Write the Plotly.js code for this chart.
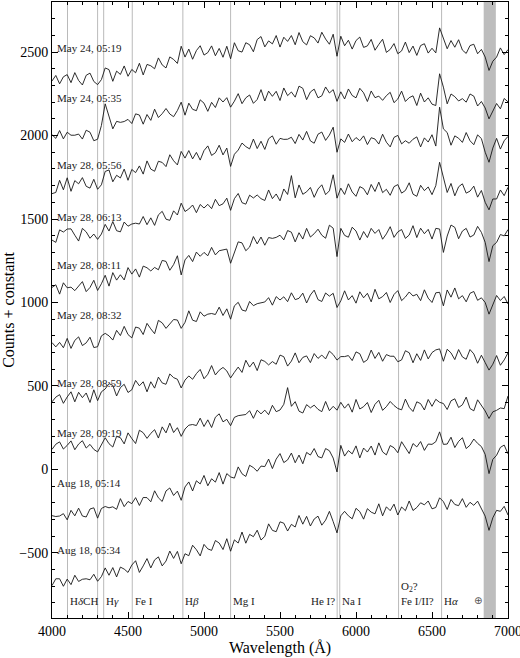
<!DOCTYPE html>
<html>
<head>
<meta charset="utf-8">
<script src="https://cdn.plot.ly/plotly-3.0.1.min.js"></script>
<style>html,body{margin:0;padding:0;background:#fff;}#chart{width:520px;height:658px;}</style>
</head>
<body>
<div id="chart"></div>
<script>
// Wavelength grid (Å), 25 Å sampling from 4000 to 7000
const wavelength = [];
for (let i = 0; i <= 120; i++) wavelength.push(4000 + 25 * i);

const spectrumNames = ["May 24, 05:19", "May 24, 05:35", "May 28, 05:56", "May 28, 06:13", "May 28, 08:11",
                       "May 28, 08:32", "May 28, 08:59", "May 28, 09:19", "Aug 18, 05:14", "Aug 18, 05:34"];
const labelY = [2524, 2225, 1823, 1512, 1224, 925, 518, 219, -80, -481];

const may24_0519 = [2327,2360,2310,2352,2365,2317,2377,2330,2303,2361,2374,2324,2305,2335,2405,2395,2325,2386,2366,2417,
  2355,2396,2376,2433,2363,2426,2418,2400,2465,2423,2405,2471,2456,2432,2535,2470,2518,2457,2509,2538,
  2482,2497,2537,2478,2522,2469,2535,2460,2556,2508,2500,2556,2544,2502,2575,2593,2531,2567,2549,2599,
  2530,2589,2564,2599,2544,2617,2562,2543,2598,2585,2554,2619,2578,2547,2607,2475,2595,2538,2571,2518,
  2569,2590,2528,2537,2576,2511,2546,2577,2498,2516,2551,2490,2507,2560,2497,2536,2480,2539,2550,2494,
  2523,2495,2645,2585,2520,2569,2529,2574,2512,2492,2539,2547,2490,2516,2470,2390,2445,2470,2525,2485,2515];
const may24_0535 = [2005,1983,2030,1980,2020,2002,2002,2009,1979,2032,2020,1969,1978,2060,2190,2109,2040,2085,2079,2084,
  2097,2072,2130,2123,2068,2126,2091,2158,2108,2131,2162,2129,2113,2150,2200,2122,2194,2157,2149,2214,
  2194,2145,2199,2168,2226,2201,2227,2170,2206,2251,2191,2226,2243,2193,2216,2275,2207,2266,2235,2265,
  2210,2285,2239,2261,2230,2296,2283,2215,2261,2278,2226,2238,2291,2255,2275,2205,2262,2219,2279,2240,
  2226,2283,2256,2204,2267,2227,2236,2211,2239,2259,2197,2219,2266,2204,2227,2238,2180,2254,2201,2226,
  2188,2180,2370,2290,2190,2249,2233,2207,2221,2200,2249,2236,2177,2204,2165,2100,2145,2192,2160,2222,2202];
const may28_0556 = [1652,1659,1732,1675,1747,1666,1730,1711,1748,1696,1685,1738,1678,1705,1785,1794,1723,1762,1746,1799,
  1732,1797,1778,1818,1769,1848,1799,1786,1846,1839,1814,1885,1849,1824,1905,1865,1910,1860,1899,1853,
  1910,1938,1881,1897,1942,1884,1925,1815,1888,1913,1955,1934,1920,1979,1922,1966,1917,1981,1998,1948,
  1983,1977,1978,1990,1952,2007,1973,2025,1968,1954,2008,2021,1971,2003,2050,1900,1980,1959,2009,1963,
  1988,1969,1998,1946,1987,1979,1949,2008,1960,1932,1989,2001,1950,1969,1954,1978,1992,1932,1986,1961,
  2005,1937,2170,2040,2018,1942,1998,1984,1959,2018,1969,1945,2004,1982,1900,1840,1925,1983,1919,1969,1995];
const may28_0613 = [1374,1360,1435,1422,1440,1441,1403,1368,1444,1423,1385,1410,1378,1410,1468,1428,1485,1430,1423,1482,
  1457,1470,1475,1470,1515,1466,1507,1462,1525,1546,1499,1492,1549,1524,1595,1545,1560,1584,1538,1587,
  1566,1588,1562,1618,1580,1591,1625,1552,1622,1653,1598,1589,1643,1626,1644,1622,1611,1674,1622,1650,
  1609,1680,1647,1760,1627,1704,1648,1663,1689,1630,1680,1705,1646,1669,1765,1625,1685,1647,1711,1662,
  1636,1694,1682,1645,1707,1665,1721,1658,1678,1642,1694,1706,1655,1671,1717,1649,1636,1702,1670,1692,
  1646,1700,1840,1740,1659,1713,1639,1693,1711,1655,1667,1697,1631,1671,1600,1555,1620,1620,1674,1640,1690];
const may28_0811 = [1090,1106,1050,1118,1088,1092,1071,1101,1125,1065,1090,1133,1072,1112,1163,1098,1179,1134,1166,1135,
  1209,1170,1201,1152,1218,1208,1189,1210,1196,1252,1246,1193,1227,1280,1165,1255,1282,1245,1302,1277,
  1300,1280,1330,1285,1310,1315,1320,1235,1306,1363,1357,1310,1332,1395,1351,1392,1343,1389,1384,1390,
  1403,1375,1431,1421,1363,1418,1380,1444,1392,1412,1439,1403,1385,1463,1445,1275,1444,1402,1391,1451,
  1428,1374,1425,1389,1444,1414,1437,1379,1411,1454,1390,1423,1437,1384,1404,1460,1389,1445,1412,1438,
  1380,1444,1440,1300,1398,1464,1450,1382,1428,1444,1392,1404,1456,1420,1360,1245,1340,1360,1407,1399,1437];
const may28_0832 = [760,734,761,729,785,725,773,794,742,758,792,730,735,800,815,800,775,833,802,857,
  808,788,853,846,808,875,842,813,893,878,845,875,898,895,845,881,950,894,886,944,
  918,930,934,928,972,922,962,900,980,1001,955,948,1006,981,993,998,1003,1029,984,1035,
  1015,1034,1005,1058,1017,1025,1056,997,1045,1074,1017,1006,1057,1038,1055,970,1010,1070,1015,1041,
  996,1064,1028,1055,1004,1079,1022,1035,1060,1000,1048,1071,1011,1033,1063,1039,1049,1011,1076,1026,
  1000,1058,1061,980,1075,1032,1087,1022,1041,1004,1055,1066,1013,1028,1000,930,985,1042,1012,1036,991];
const may28_0859 = [405,433,448,396,434,465,405,462,430,458,401,477,412,465,482,514,504,440,490,510,
  461,477,533,501,525,465,525,487,553,518,510,572,550,540,488,535,560,540,574,599,
  543,570,622,566,594,611,590,548,582,613,581,654,613,643,592,657,647,626,646,630,
  685,675,619,649,698,639,671,680,640,694,665,685,662,709,688,655,676,676,682,652,
  704,693,641,657,715,665,701,648,688,678,678,645,656,711,699,639,693,653,716,662,
  700,716,722,648,720,698,658,718,674,660,718,692,636,684,640,595,630,682,624,656,698];
const may28_0919 = [120,151,165,122,144,171,118,152,172,128,150,120,105,148,190,154,134,198,190,153,
  219,185,155,235,220,186,216,238,188,255,219,277,221,250,198,242,265,269,263,307,
  257,297,251,313,333,285,300,262,312,322,325,329,352,306,355,333,355,328,384,346,
  356,390,490,378,406,349,338,388,369,385,360,346,407,352,378,355,402,367,393,343,
  419,362,376,401,341,390,414,354,376,407,383,365,357,421,372,347,405,394,356,419,
  378,420,402,395,359,411,423,371,387,433,365,351,417,385,350,305,345,354,368,364,440];
const aug18_0514 = [-277,-282,-279,-265,-302,-245,-278,-232,-279,-285,-237,-230,-292,-234,-222,-230,-224,-239,-175,-223,
  -192,-205,-169,-216,-168,-169,-194,-128,-170,-192,-129,-111,-156,-130,-185,-105,-75,-129,-68,-87,
  -36,-98,-56,-76,-19,-88,-25,-45,-52,15,-26,-42,25,11,-11,20,17,62,5,62,
  95,41,57,98,40,86,34,102,86,125,77,69,125,112,68,-15,144,80,113,93,
  141,69,128,104,140,86,159,105,87,143,130,100,166,126,95,155,135,167,114,152,
  150,166,225,150,152,193,131,168,190,125,145,182,156,137,90,-25,60,85,132,146,93];
const aug18_0534 = [-696,-655,-655,-700,-657,-690,-634,-671,-658,-655,-661,-628,-670,-642,-590,-634,-588,-644,-585,-597,
  -617,-573,-547,-617,-578,-534,-590,-542,-524,-578,-549,-489,-533,-491,-565,-505,-517,-454,-481,-518,
  -449,-476,-485,-426,-441,-480,-415,-490,-422,-441,-375,-442,-389,-403,-364,-423,-401,-326,-365,-373,
  -314,-322,-369,-329,-345,-276,-328,-281,-339,-297,-280,-334,-304,-251,-313,-380,-278,-251,-278,-296,
  -233,-253,-298,-235,-256,-266,-206,-278,-224,-247,-208,-273,-225,-247,-189,-246,-228,-200,-212,-189,
  -236,-228,-170,-193,-240,-180,-210,-217,-175,-227,-197,-215,-190,-235,-280,-365,-290,-245,-251,-221,-273];

const spectra = [may24_0519, may24_0535, may28_0556, may28_0613, may28_0811,
                 may28_0832, may28_0859, may28_0919, aug18_0514, aug18_0534];

// Spectral line markers (Å) and their labels ("" = label shared with the previous marker)
const lineWl = [4102, 4300, 4340, 4528, 4861, 5175, 5876, 5893, 6280, 6563];
const lineLabels = ["H<i>δ</i>CH", "", "H<i>γ</i>", "Fe I", "H<i>β</i>", "Mg I", "He I?", "Na I", "Fe I/II?", "H<i>α</i>"];
const lineLabelSide = ["left", "right", "left", "left", "left", "left", "right", "left", "left", "left"];
const o2Label = "O<sub>2</sub>?";
const telluricBand = [6840, 6920];
const telluricLabel = "⊕";

const FONT = "Liberation Serif, Times New Roman, serif";

const traces = spectra.map((s, k) => ({
  x: wavelength, y: s, type: "scatter", mode: "lines", name: spectrumNames[k],
  line: {color: "#151515", width: 0.9}, hoverinfo: "skip", showlegend: false
}));

const shapes = [{
  type: "rect", xref: "x", yref: "paper", x0: telluricBand[0], x1: telluricBand[1], y0: 0, y1: 1,
  fillcolor: "#bdbdbd", line: {width: 0}, layer: "below"
}];
lineWl.forEach(w => shapes.push({
  type: "line", xref: "x", yref: "paper", x0: w, x1: w, y0: 0, y1: 1,
  line: {color: "#a8a8a8", width: 0.8}, layer: "below"
}));

const annotations = [];
spectrumNames.forEach((n, k) => annotations.push({
  x: 4020, y: labelY[k], xref: "x", yref: "y", text: n, showarrow: false,
  xanchor: "left", yanchor: "middle", font: {family: FONT, size: 11, color: "#222"}
}));
const labelBaseY = -787;
lineWl.forEach((w, k) => {
  if (!lineLabels[k]) return;
  annotations.push({
    x: w + (lineLabelSide[k] === "left" ? 4 : -3), y: labelBaseY, xref: "x", yref: "y",
    text: lineLabels[k], showarrow: false, xanchor: lineLabelSide[k], yanchor: "middle",
    font: {family: FONT, size: 11, color: "#222"}
  });
});
annotations.push({x: lineWl[8] + 4, y: -703, xref: "x", yref: "y", text: o2Label, showarrow: false,
  xanchor: "left", yanchor: "middle", font: {family: FONT, size: 11, color: "#222"}});
annotations.push({x: 6800, y: labelBaseY, xref: "x", yref: "y", text: telluricLabel, showarrow: false,
  xanchor: "center", yanchor: "middle", font: {family: "DejaVu Sans", size: 10, color: "#555"}});

const axisCommon = {
  showgrid: false, zeroline: false, showline: true, linecolor: "#000", linewidth: 1, mirror: "ticks",
  ticks: "inside", ticklen: 6, tickwidth: 1, tickcolor: "#000", ticklabeloverflow: "allow",
  tickfont: {family: FONT, size: 14, color: "#000"}
};

const layout = {
  width: 520, height: 658,
  margin: {l: 52, r: 12, t: 2, b: 40},
  paper_bgcolor: "#fff", plot_bgcolor: "#fff",
  font: {family: FONT, color: "#000"},
  xaxis: Object.assign({}, axisCommon, {
    range: [4000, 7000], tick0: 4000, dtick: 500,
    minor: {dtick: 100, ticks: "inside", ticklen: 3, tickcolor: "#000", tickwidth: 1},
    title: {text: "Wavelength (Å)", font: {family: FONT, size: 16}, standoff: 2}
  }),
  yaxis: Object.assign({}, axisCommon, {
    range: [-890, 2800], tick0: 0, dtick: 500,
    minor: {dtick: 100, ticks: "inside", ticklen: 3, tickcolor: "#000", tickwidth: 1},
    title: {text: "Counts + constant", font: {family: FONT, size: 16}, standoff: 0}
  }),
  shapes: shapes,
  annotations: annotations,
  hovermode: false
};

Plotly.newPlot("chart", traces, layout, {displayModeBar: false, staticPlot: true});
</script>
</body>
</html>
